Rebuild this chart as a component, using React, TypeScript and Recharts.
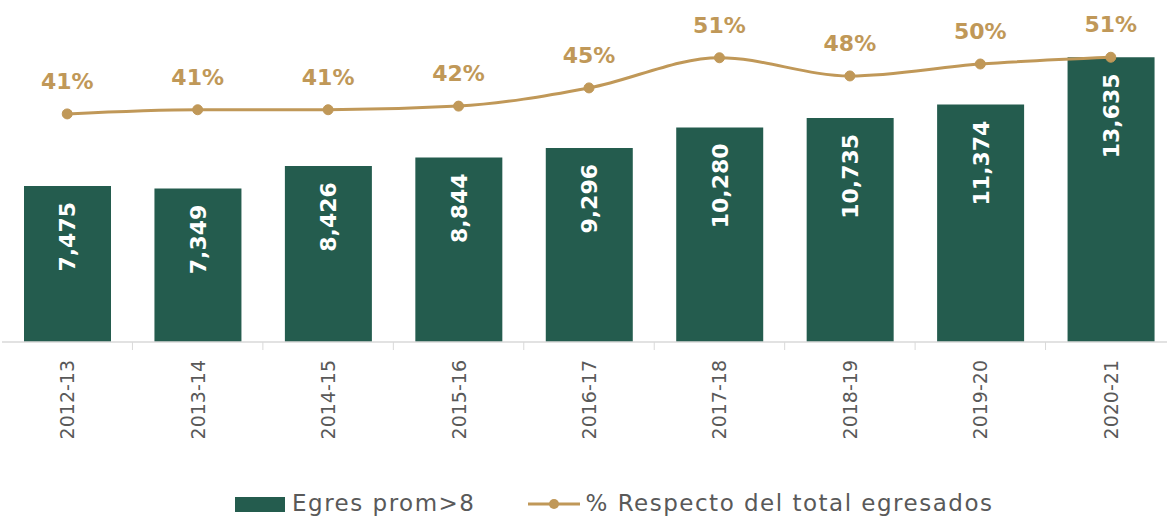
import React from "react";
import { ComposedChart, Bar, Line, XAxis, YAxis, LabelList, Legend } from "recharts";

// ======================
// Data
// ======================
const categories = ["2012-13", "2013-14", "2014-15", "2015-16", "2016-17", "2017-18", "2018-19", "2019-20", "2020-21"];
const egresProm8 = [7475, 7349, 8426, 8844, 9296, 10280, 10735, 11374, 13635];
const pctTotal = [40.2, 41.0, 41.0, 41.7, 45.2, 51.0, 47.5, 49.8, 51.1];
const pctLabels = ["41%", "41%", "41%", "42%", "45%", "51%", "48%", "50%", "51%"];

const data = categories.map((c, i) => ({ name: c, egres: egresProm8[i], pct: pctTotal[i], pctLabel: pctLabels[i] }));

const GREEN = "#245C4E";
const GOLD = "#C09858";
const GRAY_TEXT = "#595959";
const FONT = "'DejaVu Sans', sans-serif";

const CHART_W = 1180;
const CHART_H = 516;
const MARGIN = { top: 8, right: 4, bottom: 0, left: 2 };
const PLOT_W = CHART_W - MARGIN.left - MARGIN.right;
const BAND = PLOT_W / categories.length;

// rotated category label + tick mark at the band boundary
const CategoryTick = (props: any) => {
  const { x, y, payload, index } = props;
  return (
    <g>
      {index < categories.length - 1 && (
        <line x1={x + BAND / 2} y1={y} x2={x + BAND / 2} y2={y + 8} stroke="#D9D9D9" strokeWidth={1} />
      )}
      <text
        x={x + 7}
        y={y + 18}
        transform={`rotate(-90, ${x + 7}, ${y + 18})`}
        textAnchor="end"
        fill={GRAY_TEXT}
        fontSize={19}
        fontFamily={FONT}
      >
        {payload.value}
      </text>
    </g>
  );
};

// white rotated value inside each bar
const BarValueLabel = (props: any) => {
  const { x, y, width, value } = props;
  const cx = x + width / 2 + 8;
  const ty = y + 16;
  return (
    <text
      x={cx}
      y={ty}
      transform={`rotate(-90, ${cx}, ${ty})`}
      textAnchor="end"
      fill="#FFFFFF"
      fontSize={22}
      fontWeight="bold"
      fontFamily={FONT}
    >
      {Number(value).toLocaleString("en-US")}
    </text>
  );
};

const LegendContent = () => (
  <div
    style={{
      display: "flex",
      alignItems: "center",
      height: 30,
      boxSizing: "border-box",
      paddingTop: 3,
      paddingLeft: 235,
      fontFamily: FONT,
      fontSize: 23,
      letterSpacing: 1.5,
      color: GRAY_TEXT,
      whiteSpace: "nowrap",
    }}
  >
    <span style={{ display: "inline-block", width: 50, height: 15, background: GREEN, marginRight: 7, marginTop: 3 }} />
    <span>Egres prom&gt;8</span>
    <svg width={52} height={12} style={{ marginLeft: 53, marginRight: 5, marginTop: 3 }}>
      <line x1={0} y1={6} x2={52} y2={6} stroke={GOLD} strokeWidth={3} />
      <circle cx={26} cy={6} r={5} fill={GOLD} />
    </svg>
    <span>% Respecto del total egresados</span>
  </div>
);

export default function App() {
  return (
    <div style={{ position: "fixed", left: 0, top: 0, width: 1167, height: 516, overflow: "hidden", background: "#fff" }}>
      <ComposedChart width={CHART_W} height={CHART_H} data={data} margin={MARGIN}>
        <XAxis
          dataKey="name"
          height={144}
          interval={0}
          tickLine={false}
          tickSize={0}
          tickMargin={0}
          axisLine={{ stroke: "#D9D9D9", strokeWidth: 1.5 }}
          tick={<CategoryTick />}
        />
        <YAxis yAxisId="left" hide domain={[0, 16000]} />
        <YAxis yAxisId="right" orientation="right" hide domain={[-3.67, 60.57]} allowDataOverflow />
        <Legend
          verticalAlign="bottom"
          height={30}
          content={<LegendContent />}
          wrapperStyle={{ left: 0, width: 1167, height: 30 }}
        />
        <Bar yAxisId="left" dataKey="egres" name="Egres prom>8" fill={GREEN} barSize={87} isAnimationActive={false}>
          <LabelList dataKey="egres" content={<BarValueLabel />} />
        </Bar>
        <Line
          yAxisId="right"
          type="monotone"
          dataKey="pct"
          name="% Respecto del total egresados"
          stroke={GOLD}
          strokeWidth={3}
          dot={{ r: 5, fill: GOLD, stroke: GOLD, strokeWidth: 1 }}
          isAnimationActive={false}
        >
          <LabelList
            dataKey="pctLabel"
            position="top"
            offset={25}
            fill={GOLD}
            fontSize={22}
            fontWeight="bold"
            fontFamily={FONT}
          />
        </Line>
      </ComposedChart>
    </div>
  );
}
